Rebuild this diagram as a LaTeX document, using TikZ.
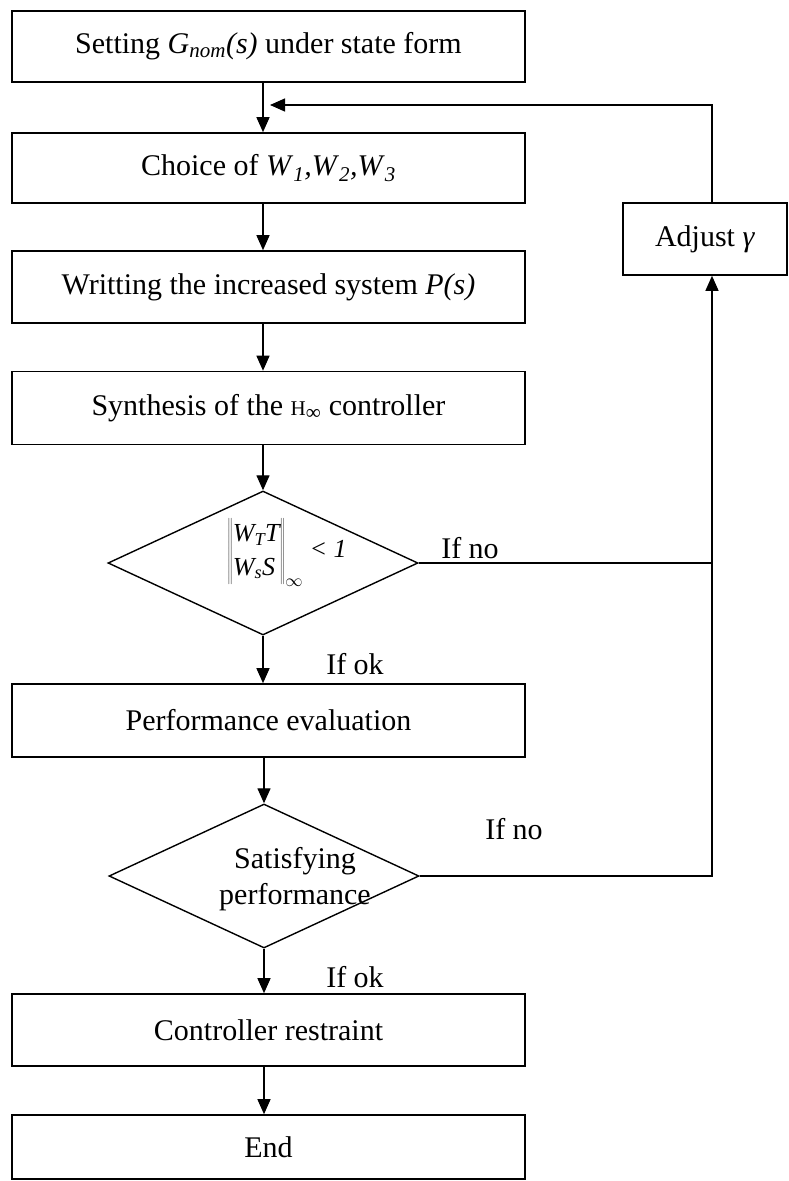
\documentclass[tikz,border=0pt]{standalone}
\usepackage{fontspec}
\setmainfont{Liberation Serif}
\usetikzlibrary{shapes.geometric,arrows.meta}

\newcommand{\isub}[1]{\textsubscript{\itshape #1}}

\tikzset{
  block/.style={draw, line width=1.6pt, minimum width=513pt, minimum height=71pt, inner sep=0pt},
  decision/.style={draw, diamond, line width=1.4pt, minimum width=310pt, minimum height=144pt, inner sep=0pt},
  line/.style={line width=1.3pt},
  arr/.style={line width=1.3pt, -{Triangle[width=13pt,length=15pt]}},
}

\begin{document}
\begin{tikzpicture}[x=1pt, y=-1pt, font=\fontsize{30}{36}\selectfont]
    \useasboundingbox (0,0) rectangle (788,1181);

    % main chain
    \node[block] (b1) at (268.5,46.5) {Setting \textit{G}\isub{nom}\textit{(s)} under state form};
    \node[block, minimum height=70pt] (b2) at (268.5,168) {Choice of \textit{W}\isub{1}\textit{,W}\isub{2}\textit{,W}\isub{3}};
    \node[block, minimum height=72pt] (b3) at (268.5,287) {Writting the increased system \textit{P(s)}};
    \node[block, minimum height=73pt] (b4) at (268.5,408) {Synthesis of the {\fontsize{21}{21}\selectfont H}\textsubscript{∞} controller};
    \node[decision] (d1) at (263,563) {};
    \node[font=\fontsize{26}{27}\selectfont] (norm) at (287,552)
      {$\renewcommand{\arraystretch}{1.25}\left\|\begin{array}{@{}l@{}}\textit{W}\isub{T}\textit{T}\\ \textit{W}\isub{s}\textit{S}\end{array}\right\|_{\infty}$ \textit{< 1}};
    \node[block, minimum height=73pt] (b5) at (268.5,720.5) {Performance evaluation};
    \node[decision] (d2) at (264,876) {};
    \node[align=center] (d2txt) at (295,879) {Satisfying\\performance};
    \node[block, minimum height=72pt] (b6) at (268.5,1030) {Controller restraint};
    \node[block, minimum height=64pt] (b7) at (268.5,1147) {End};

    % loop back
    \node[block, minimum width=164pt, minimum height=72pt] (adj) at (705,239) {Adjust \textit{γ}};

    \coordinate (rt) at (712,105);
    \coordinate (tip) at (270,105);

    \draw[arr] (b1.south -| d1.north) -- (b2.north -| d1.north);
    \draw[arr] (b2.south -| d1.north) -- (b3.north -| d1.north);
    \draw[arr] (b3.south -| d1.north) -- (b4.north -| d1.north);
    \draw[arr] (b4.south -| d1.north) -- (d1.north);
    \draw[arr] (d1.south) -- (b5.north -| d1.south);
    \draw[arr] (b5.south -| d2.north) -- (d2.north);
    \draw[arr] (d2.south) -- (b6.north -| d2.south);
    \draw[arr] (b6.south -| d2.south) -- (b7.north -| d2.south);

    \draw[line] (d1.east) -- (d1.east -| rt);
    \draw[arr] (d2.east) -- (d2.east -| rt) -- (adj.south -| rt);
    \draw[arr] (adj.north -| rt) -- (rt) -- (tip);

    \node (no1) at (470,548) {If no};
    \node (ok1) at (355,664) {If ok};
    \node (no2) at (514,829) {If no};
    \node (ok2) at (355,977) {If ok};
\end{tikzpicture}
\end{document}
